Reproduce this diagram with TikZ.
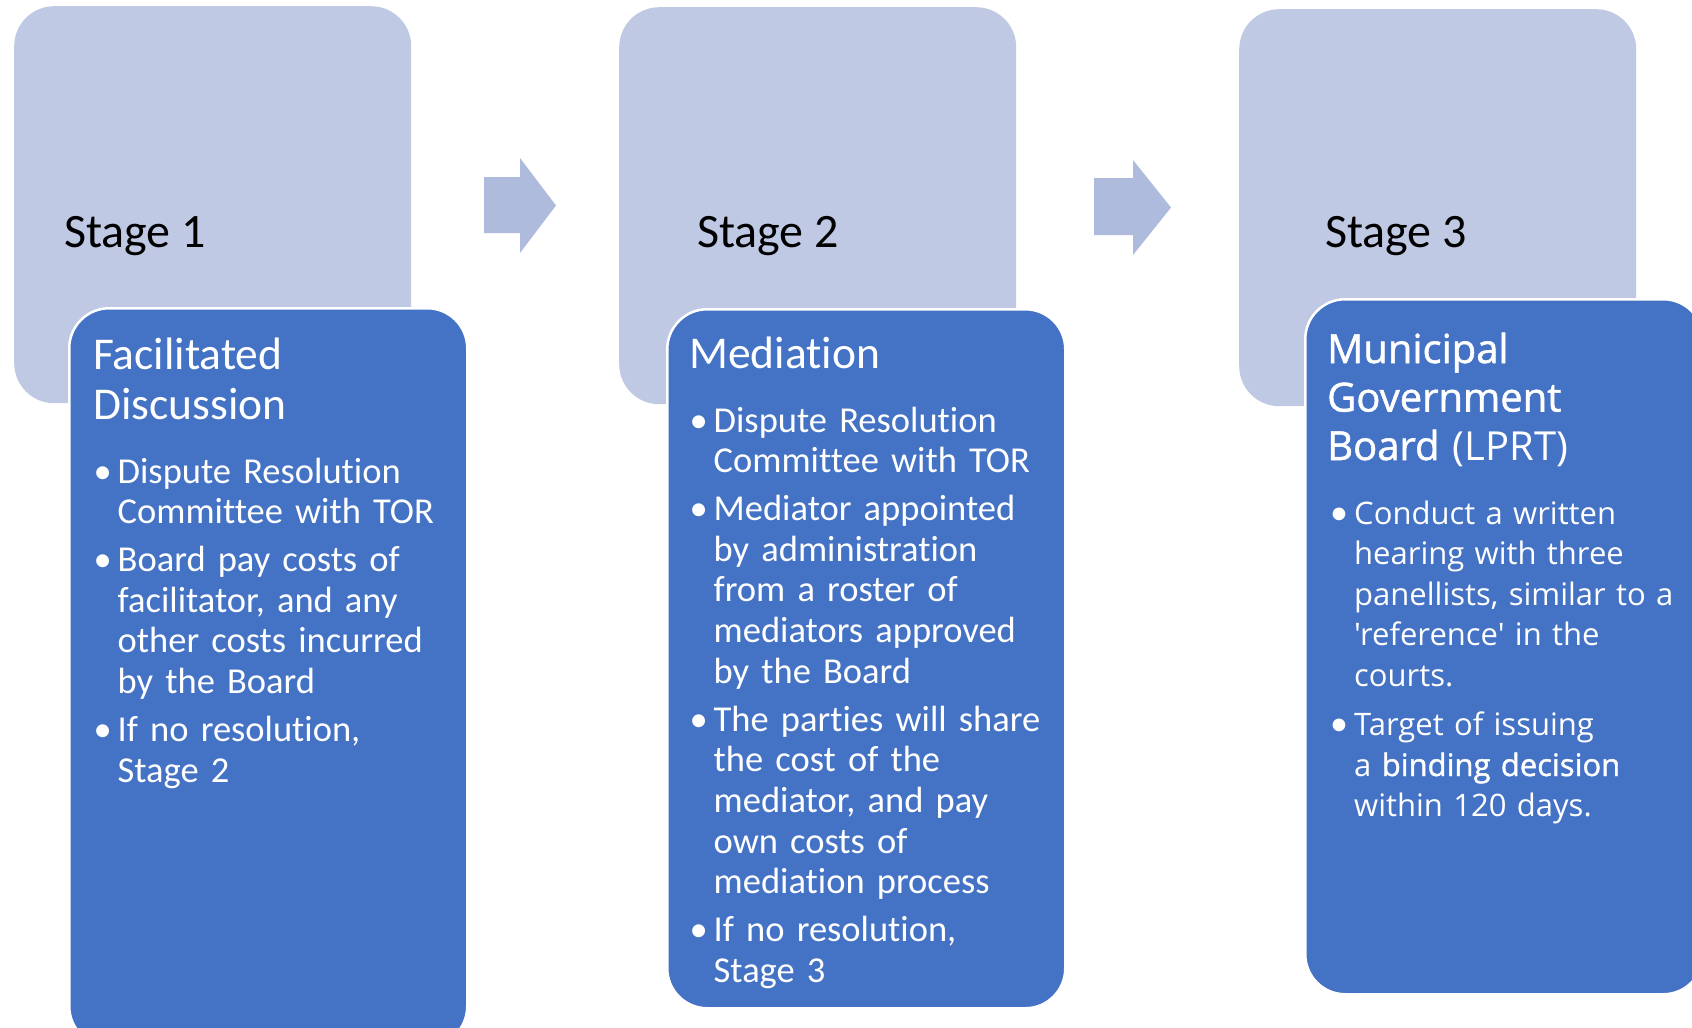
\documentclass[tikz,border=0pt]{standalone}
\usepackage{fontspec}
\setmainfont[Ligatures={NoCommon}]{Carlito}
\newfontfamily\osans[Ligatures={NoCommon}]{Open Sans}
\newfontfamily\osansmed[FakeBold=1.3,Ligatures={NoCommon}]{Open Sans}
\usetikzlibrary{positioning}

\definecolor{stagefill}{RGB}{191,201,228}
\definecolor{arrowfill}{RGB}{175,187,221}
\definecolor{detailfill}{RGB}{68,114,196}

% bullet and continuation indent for the lists
\newcommand\bitem[1][24pt]{\makebox[#1][l]{•}}
\newcommand\bitemsans[1][24pt]{\makebox[#1][l]{\rmfamily\fontsize{36}{40}\selectfont •}}
\newcommand\bcont[1][24pt]{\hspace*{#1}}

\tikzset{
  stagebox/.style={fill=stagefill, rounded corners=40pt, inner sep=0pt,
    minimum width=397pt, minimum height=397pt, anchor=north west},
  detailbox/.style={fill=detailfill, draw=white, line width=2.5pt,
    rounded corners=40pt, inner sep=0pt, minimum width=398pt, anchor=north west},
  stagelbl/.style={font=\fontsize{48}{56}\selectfont, text=black,
    inner sep=0pt, anchor=base west},
  headlbl/.style={font=\fontsize{45.5}{50}\selectfont, text=white,
    inner sep=0pt, anchor=base west, align=left, text width=360pt},
  bulletlist/.style={font=\fontsize{36.5}{40.6}\selectfont, text=white,
    inner sep=0pt, anchor=base west, align=left, text width=370pt},
  headlbltwo/.style={font=\osans\fontsize{40}{48.5}\selectfont, text=white,
    inner sep=0pt, anchor=base west, align=left, text width=370pt},
  bulletlisttwo/.style={font=\osans\fontsize{31}{40.5}\selectfont, text=white,
    inner sep=0pt, anchor=base west, align=left, text width=380pt},
  flowarrow/.style={fill=arrowfill}
}

\begin{document}
\begin{tikzpicture}[x=1pt,y=-1pt]
\useasboundingbox (0,0) rectangle (1692,1028);
\clip (0,0) rectangle (1692,1028);

% stage cards
\node[stagebox] (s1) at (14,6) {};
\node[stagebox] (s2) at (619,7) {};
\node[stagebox] (s3) at (1239,9) {};

% detail cards
\node[detailbox, minimum height=738pt] (d1) at (68,307) {};
\node[detailbox, minimum height=699pt] (d2) at (666,308) {};
\node[detailbox, minimum height=695pt] (d3) at (1304,298) {};

% arrows between the stages
\fill[flowarrow] (484,177) -- (520,177) -- (520,158) -- (556,205.5)
  -- (520,253) -- (520,233) -- (484,233) -- cycle;
\fill[flowarrow] (1094,178) -- (1133,178) -- (1133,160) -- (1171,207.5)
  -- (1133,255) -- (1133,235) -- (1094,235) -- cycle;

% stage labels
\node[stagelbl] (l1) at (64,247) {Stage 1};
\node[stagelbl] (l2) at (697,247) {Stage 2};
\node[stagelbl] (l3) at (1325,247) {Stage 3};

% stage 1 details
\node[headlbl] (h1) at (93,369) {Facilitated\\Discussion};
\node[bulletlist] (b1) at (93.5,483) {%
\bitem Dispute Resolution\\
\bcont Committee with TOR\\[7.5pt]
\bitem Board pay costs of\\
\bcont facilitator, and any\\
\bcont other costs incurred\\
\bcont by the Board\\[7.5pt]
\bitem If no resolution,\\
\bcont Stage 2};

% stage 2 details
\node[headlbl] (h2) at (689,368) {Mediation};
\node[bulletlist] (b2) at (689.5,432) {%
\bitem Dispute Resolution\\
\bcont Committee with TOR\\[7.5pt]
\bitem Mediator appointed\\
\bcont by administration\\
\bcont from a roster of\\
\bcont mediators approved\\
\bcont by the Board\\[7.5pt]
\bitem The parties will share\\
\bcont the cost of the\\
\bcont mediator, and pay\\
\bcont own costs of\\
\bcont mediation process\\[7.5pt]
\bitem If no resolution,\\
\bcont Stage 3};

% stage 3 details
\node[headlbltwo] (h3) at (1327,363) {{\osansmed Municipal}\\
{\osansmed Government}\\
{\osansmed Board} (LPRT)};
\node[bulletlisttwo] (b3) at (1330,524) {%
\bitemsans Conduct a written\\
\bcont hearing with three\\
\bcont panellists, similar to a\\
\bcont 'reference' in the\\
\bcont courts.\\[9pt]
\bitemsans Target of issuing\\
\bcont a {\osansmed binding decision}\\
\bcont within 120 days.};
\end{tikzpicture}
\end{document}
